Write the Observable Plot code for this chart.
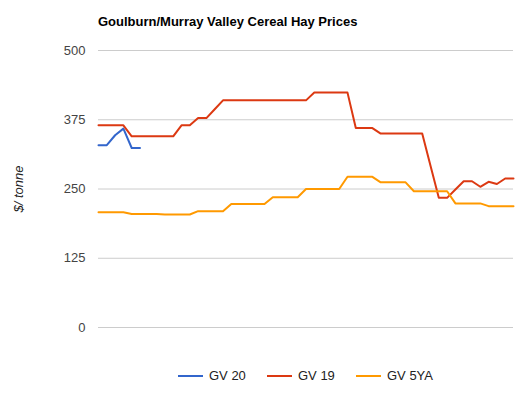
<!DOCTYPE html>
<html>
<head>
<meta charset="utf-8">
<script src="https://cdn.jsdelivr.net/npm/d3@7"></script>
<script src="https://cdn.jsdelivr.net/npm/@observablehq/plot@0.6"></script>
<style>
  html, body { margin: 0; padding: 0; background: #fff; }
  #wrap { position: relative; width: 525px; height: 395px; font-family: Arial, "Liberation Sans", sans-serif; }
  #title { position: absolute; left: 98px; top: 14px; font-size: 13px; font-weight: bold; color: #000; white-space: nowrap; }
  #chart { position: absolute; left: 0; top: 0; }
  .leg { position: absolute; top: 368px; font-size: 13px; color: #222; display: flex; align-items: center; white-space: nowrap; }
  .sw { display: inline-block; width: 25px; height: 2px; margin-right: 6px; }
</style>
</head>
<body>
<div id="wrap">
  <div id="chart"></div>
  <div id="title"></div>
  <div id="legend"></div>
</div>
<script>
const title = "Goulburn/Murray Valley Cereal Hay Prices";
const yLabel = "$/ tonne";
const yTicks = [0, 125, 250, 375, 500];
const weeks = [1,2,3,4,5,6,7,8,9,10,11,12,13,14,15,16,17,18,19,20,21,22,23,24,25,26,27,28,29,30,31,32,33,34,35,36,37,38,39,40,41,42,43,44,45,46,47,48,49,50,51];
const seriesNames = ["GV 20", "GV 19", "GV 5YA"];
const seriesColors = ["#3366cc", "#dc3912", "#ff9900"];
const gv20 = [329, 329, 347, 359, 324, 324];
const gv19 = [365,365,365,365,345,345,345,345,345,345,365,365,378,378,394,410,410,410,410,410,410,410,410,410,410,410,424,424,424,424,424,360,360,360,350,350,350,350,350,350,292,234,234,249,264,264,254,263,259,269,269];
const gv5ya = [208,208,208,208,205,205,205,205,204,204,204,204,210,210,210,210,223,223,223,223,223,235,235,235,235,250,250,250,250,250,272,272,272,272,262,262,262,262,246,246,246,246,246,224,224,224,224,219,219,219,219];

const seriesValues = [gv20, gv19, gv5ya];
const data = [];
seriesValues.forEach((vals, si) => {
  vals.forEach((v, i) => data.push({week: weeks[i], value: v, series: seriesNames[si]}));
});

document.getElementById("title").textContent = title;

const chart = Plot.plot({
  width: 525,
  height: 395,
  marginLeft: 98,
  marginRight: 12,
  marginTop: 50,
  marginBottom: 68,
  style: {fontFamily: "Arial, 'Liberation Sans', sans-serif", fontSize: "13px", color: "#444", background: "transparent"},
  x: {domain: [weeks[0], weeks[weeks.length - 1]], axis: null},
  y: {domain: [0, 500], axis: null},
  color: {domain: seriesNames, range: seriesColors},
  marks: [
    Plot.ruleY(yTicks, {stroke: "#cccccc", strokeWidth: 1}),
    Plot.axisY({ticks: yTicks, tickSize: 0, tickPadding: 13, label: null, fontSize: 13, tickFormat: d => String(d)}),
    Plot.text([yLabel], {frameAnchor: "left", dx: -80, rotate: -90, textAnchor: "middle", fontStyle: "italic", fontSize: 13, fill: "#222"}),
    Plot.line(data, {x: "week", y: "value", z: "series", stroke: "series", strokeWidth: 2, strokeLinejoin: "round", curve: "linear"})
  ]
});
document.getElementById("chart").appendChild(chart);

const legendX = [178, 267, 356];
const legend = document.getElementById("legend");
seriesNames.forEach((name, i) => {
  const item = document.createElement("div");
  item.className = "leg";
  item.style.left = legendX[i] + "px";
  const sw = document.createElement("span");
  sw.className = "sw";
  sw.style.background = seriesColors[i];
  item.appendChild(sw);
  item.appendChild(document.createTextNode(name));
  legend.appendChild(item);
});
</script>
</body>
</html>
